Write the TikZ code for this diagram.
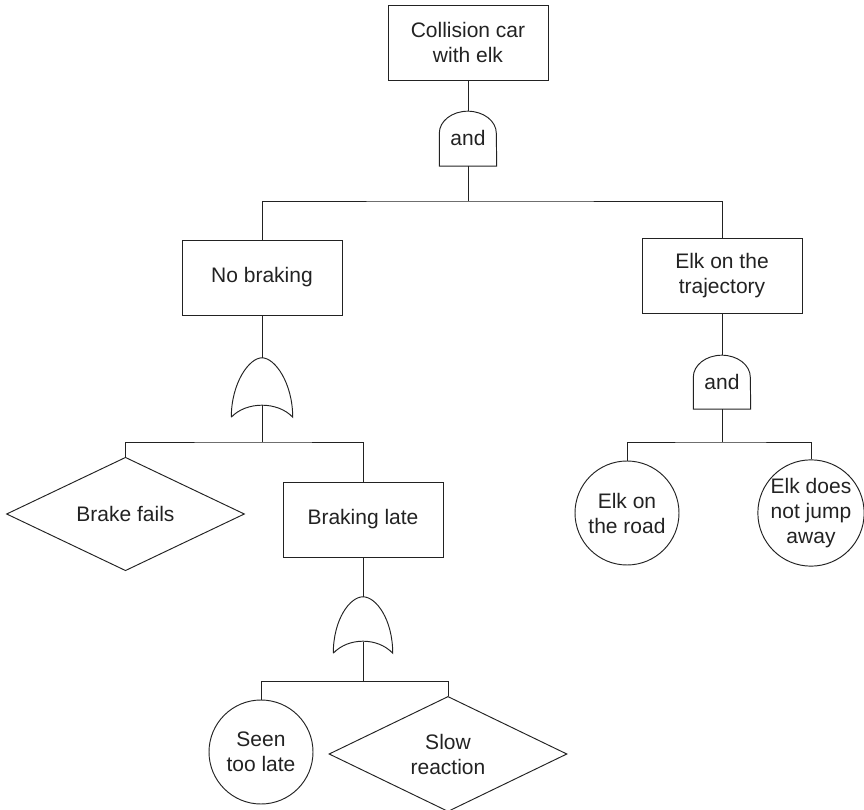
\documentclass[tikz,border=0pt]{standalone}
\usepackage{fontspec}
\setmainfont{Liberation Sans}
\usetikzlibrary{shapes.geometric,calc}
\definecolor{ink}{HTML}{222222}
\begin{document}
\begin{tikzpicture}[x=1pt,y=1pt,
  every node/.style={font=\fontsize{21}{25}\selectfont, text=ink, align=center, inner sep=0pt},
  line/.style={draw=ink, line width=0.95pt},
  evbox/.style={line, rectangle, minimum width=160pt, minimum height=75pt},
  basic/.style={line, circle, minimum size=104pt},
  undev/.style={line, diamond, minimum width=238pt, minimum height=105pt},
  gatebox/.style={draw=none, rectangle, minimum width=#1}, gatebox/.default=57pt
]
\useasboundingbox (0,0) rectangle (864,809);

% events
\node[evbox] (top) at (468,766.5) {Collision car\\with elk};
\node[evbox] (nb) at (262,531.5) {No braking};
\node[evbox] (et) at (722,533.5) {Elk on the\\trajectory};
\node[undev] (bf) at (125.5,295) {Brake fails};
\node[evbox] (bl) at (363,289.5) {Braking late};
\node[basic] (st) at (261,57) {Seen\\too late};
\node[undev] (sr) at (448,55) {Slow\\reaction};
\node[basic] (er) at (627,296) {Elk on\\the road};
\node[basic] (ej) at (811,296) {Elk does\\not jump\\away};

% gates
\node[gatebox, minimum height=55pt] (a1) at (468,670.5) {and};
\node[gatebox, minimum height=54pt] (a2) at (722,427) {and};
\node[gatebox=61pt, minimum height=59pt] (o1) at (262,421.5) {};
\node[gatebox=59pt, minimum height=56pt] (o2) at (363,184) {};

\draw[line] (a1.south west) -- ([yshift=33pt]a1.south west)
  arc[start angle=180, end angle=0, x radius=28.5pt, y radius=22pt]
  -- (a1.south east) -- cycle;
\draw[line] (a2.south west) -- ([yshift=32pt]a2.south west)
  arc[start angle=180, end angle=0, x radius=28.5pt, y radius=22pt]
  -- (a2.south east) -- cycle;
\foreach \g in {o1,o2}{
  \draw[line] (\g.south west) .. controls +(0pt,34pt) and +(-13pt,0pt) .. (\g.north)
    .. controls +(13pt,0pt) and +(0pt,34pt) .. (\g.south east)
    .. controls +(-15pt,16pt) and +(15pt,16pt) .. (\g.south west);
}

% bar junctions
\coordinate (b1) at (468,608);
\coordinate (b2) at (262,367);
\coordinate (b3) at (363,127.5);
\coordinate (b4) at (722,367);

% connectors
\draw[line] (top.south) -- (a1.north);
\draw[line] (a1.south) -- (b1);
\draw[line] (nb.north) |- (b1) -| (et.north);
\draw[line] (nb.south) -- (o1.north);
\draw[line] ([yshift=12pt]o1.south) -- (b2);
\draw[line] (bf.north) |- (b2) -| (bl.north);
\draw[line] (bl.south) -- (o2.north);
\draw[line] ([yshift=11pt]o2.south) -- (b3);
\draw[line] (st.north) |- (b3) -| (sr.north);
\draw[line] (et.south) -- (a2.north);
\draw[line] (a2.south) -- (b4);
\draw[line] (er.north) |- (b4) -| (ej.north);
\end{tikzpicture}
\end{document}
